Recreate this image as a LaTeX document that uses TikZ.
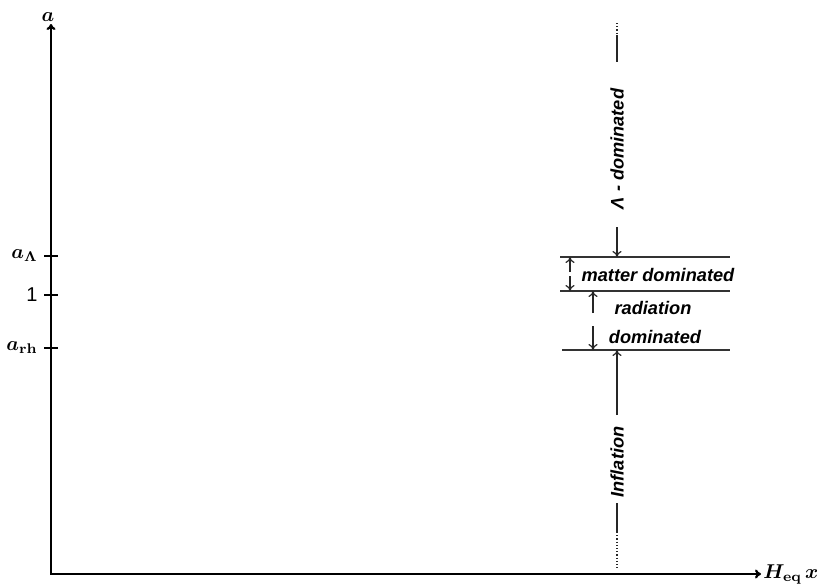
\documentclass[tikz,border=0pt]{standalone}
\usepackage{amsmath}
\usepackage{bm}
\usepackage[no-math]{fontspec}
\setmainfont{Liberation Sans}
\usetikzlibrary{arrows.meta}

\tikzset{
  axis/.style={line width=1.1pt, black},
  bound/.style={line width=0.75pt, black!80},
  track/.style={line width=0.6pt, black!85},
  era/.style={font=\fontsize{9.1}{11}\selectfont\bfseries\itshape, inner sep=0pt},
  ticklabel/.style={anchor=east, font=\normalsize, inner sep=0pt}
}

\begin{document}
\begin{tikzpicture}[x=0.5pt, y=0.5pt, >={To[length=3pt,width=4.5pt]}]

\useasboundingbox (-51,-12) rectangle (769,574);

%% ------------------------------------------------------------------
%% axes: scale factor against H_eq x
%% ------------------------------------------------------------------
\coordinate (O) at (0,0);
\coordinate (ytip) at (0,550);
\coordinate (xtip) at (710,0);
\draw[axis, <->] (ytip) -- (O) -- (xtip);
\node[anchor=south, inner sep=1pt, xshift=-1.5pt] (alab) at (ytip) {$\bm{a}$};
\node[anchor=west, inner sep=1pt] (hlab) at (xtip) {$\bm{H_{\mathrm{eq}}\,x}$};

% ticks on the a axis
\foreach \y/\lab [count=\i] in {318/{$\bm{a}_{\bm\Lambda}$}, 279/{1}, 226/{$\bm{a}_{\mathbf{rh}}$}}{
  \draw[axis, line width=0.8pt] (-7,\y) -- (7,\y);
  \node[ticklabel] (tick\i) at (-13,\y) {\lab};
}

%% ------------------------------------------------------------------
%% the eras along one line of constant x
%% ------------------------------------------------------------------
% era boundaries
\coordinate (lamL) at (509,317);  \coordinate (lamR) at (679,317);
\coordinate (radL) at (509,283);  \coordinate (radR) at (679,283);
\coordinate (infL) at (511,224);  \coordinate (infR) at (679,224);
\draw[bound] (lamL) -- (lamR);
\draw[bound] (radL) -- (radR);
\draw[bound] (infL) -- (infR);

% Lambda dominated, open towards the top
\node[era, rotate=90] (lamdom) at (566,425) {Λ - dominated};
\draw[track, densely dotted] (566,551) -- (566,539);
\draw[track] (566,539) -- (566,512);
\draw[track, ->] (566,347) -- (lamdom.west |- lamL);

% matter dominated
\node[era] (matter) at (607,299) {matter dominated};
\coordinate (mmid) at (519,300);
\draw[track, ->] ([yshift=1pt]mmid) -- (mmid |- lamL);
\draw[track, ->] ([yshift=-1pt]mmid) -- (mmid |- radL);

% radiation dominated
\node[era] (rad) at (602,266) {radiation};
\node[era] (dom) at (604,237) {dominated};
\draw[track, ->] (542,261) -- (542,283);
\draw[track, ->] (542,248) -- (542,224);

% inflation, open towards the bottom
\node[era, rotate=90] (infl) at (566,112) {Inflation};
\draw[track, ->] (566,159) -- (infl.east |- infL);
\draw[track] (566,71) -- (566,42);
\draw[track, densely dotted] (566,42) -- (566,4);

\end{tikzpicture}
\end{document}
